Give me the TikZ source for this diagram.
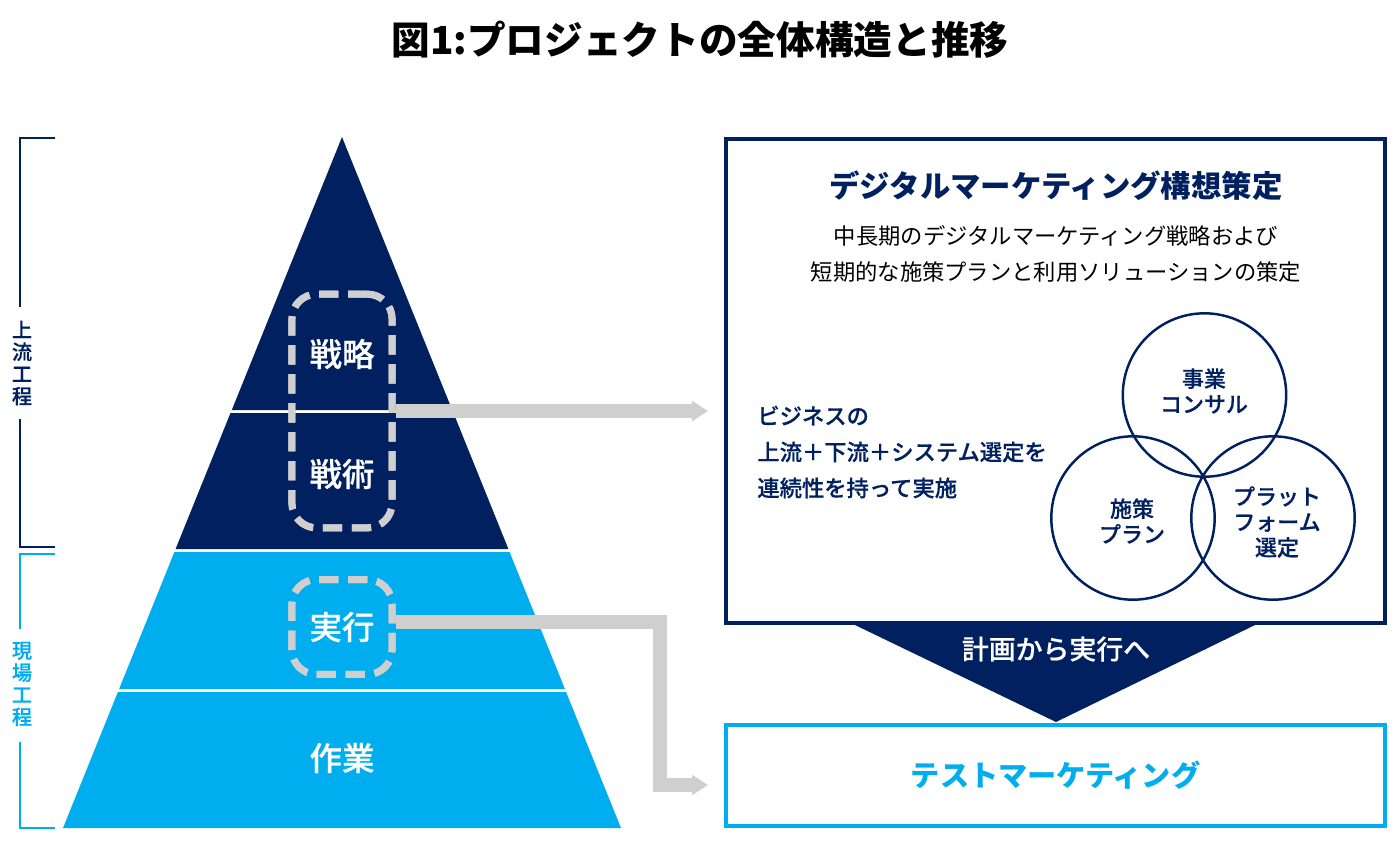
\documentclass[tikz,border=0pt]{standalone}
\usepackage{fontspec}
\setmainfont{Noto Sans CJK JP}
\newfontfamily\mediumfont[FakeBold=0.5]{Noto Sans CJK JP Medium}
\usetikzlibrary{arrows.meta}
\definecolor{navyblue}{RGB}{0,32,96}
\definecolor{skyblue}{RGB}{0,174,239}
\definecolor{arrowgray}{RGB}{207,207,207}
\newcommand{\pxfont}[1]{\fontsize{#1}{#1}\selectfont}
\tikzset{
  tierlabel/.style={text=white, font=\mediumfont\pxfont{18.5}},
  dashbox/.style={draw=arrowgray, line width=4pt, rounded corners=14pt, dash pattern=on 11pt off 5.5pt, minimum width=57pt, inner sep=0pt},
  flow/.style={draw=arrowgray, line width=8pt, -{Triangle[length=9pt,width=11pt]}},
  vennring/.style={draw=navyblue, circle, line width=1.4pt, minimum size=93pt, inner sep=0pt},
  vennlabel/.style={align=center, inner sep=0pt, text=navyblue, font=\mediumfont\pxfont{12.5}, execute at begin node={\baselineskip=14.5pt}},
  sidelabel/.style={align=center, inner sep=0pt, font=\mediumfont\pxfont{11.5}, execute at begin node={\baselineskip=12.6pt}},
  bracket/.style={line width=1pt},
  outerbox/.style={draw, rectangle, line width=2.3pt, minimum width=374.7pt, inner sep=0pt}
}
\begin{document}
\begin{tikzpicture}[x=0.02cm, y=-0.02cm]
    \useasboundingbox (0,0) rectangle (1400,840);
    % title
    \node[font=\bfseries\pxfont{22}, text=black] (title) at (700,40) {図1:プロジェクトの全体構造と推移};
    % pyramid
    \fill[navyblue] (342,137) -- (452.2,410) -- (231.8,410) -- cycle;
    \fill[navyblue] (230.5,413) -- (453.5,413) -- (508.4,549) -- (175.6,549) -- cycle;
    \fill[skyblue] (174.4,552) -- (509.6,552) -- (564.9,689) -- (119.1,689) -- cycle;
    \fill[skyblue] (117.9,692) -- (566.1,692) -- (621,828) -- (63,828) -- cycle;
    % right side boxes
    \node[outerbox, draw=navyblue, minimum height=275.8pt] (planbox) at (1055.5,380.8) {};
    \node[outerbox, draw=skyblue, minimum height=57.3pt] (testbox) at (1055.5,775.5) {\textcolor{skyblue}{\bfseries\pxfont{16.6}テストマーケティング}};
    \fill[navyblue] (855,625) -- (1255,625) -- (1056,722) -- cycle;
    \node[text=white, font=\mediumfont\pxfont{15.3}] (shift) at (1056,649) {計画から実行へ};
    % arrows
    \node[dashbox, minimum height=133pt] (stratbox) at (342,411) {};
    \node[dashbox, minimum height=54pt] (execbox) at (342,627) {};
    \coordinate (planin) at (708,411);
    \coordinate (execbend) at (660,622);
    \coordinate (testin) at (708,785);
    \draw[flow] (stratbox.east) -- (planin);
    \draw[flow] (execbox.east |- execbend) -- (execbend) -- (execbend |- testin) -- (testin);
    \node[dashbox, minimum height=133pt] at (342,411) {};
    \node[dashbox, minimum height=54pt] at (342,627) {};
    % tier labels
    \node[tierlabel] (senryaku) at (342,354) {戦略};
    \node[tierlabel] (senjutsu) at (342,474) {戦術};
    \node[tierlabel] (jikko) at (342,627) {実行};
    \node[tierlabel] (sagyo) at (342,758) {作業};
    % left brackets
    \node[sidelabel, text=navyblue] (upstream) at (22,363) {上\\流\\工\\程};
    \node[sidelabel, text=skyblue] (field) at (22,684) {現\\場\\工\\程};
    \draw[bracket, navyblue] (55,138) -- (20,138) -- (20,307);
    \draw[bracket, navyblue] (20,419) -- (20,547) -- (55,547);
    \draw[bracket, skyblue] (55,554) -- (20,554) -- (20,629);
    \draw[bracket, skyblue] (20,742) -- (20,828) -- (55,828);
    % plan box text
    \node[text=navyblue, font=\bfseries\pxfont{17.3}] (plantitle) at (1056,186) {デジタルマーケティング構想策定};
    \node[text=black, font=\pxfont{12.7}, align=center, execute at begin node={\baselineskip=20.5pt}] (plantext) at (1056,254) {中長期のデジタルマーケティング戦略および\\短期的な施策プランと利用ソリューションの策定};
    \node[text=navyblue, font=\mediumfont\pxfont{12.7}, align=left, anchor=west, inner sep=0pt, execute at begin node={\baselineskip=20.5pt}] (biztext) at (757,452) {ビジネスの\\上流＋下流＋システム選定を\\連続性を持って実施};
    % venn
    \node[vennring] (consul) at (1204.5,395) {};
    \node[vennring] (planning) at (1133,518) {};
    \node[vennring] (platform) at (1273,518) {};
    \node[vennlabel] (consultext) at (1204,391) {事業\\コンサル};
    \node[vennlabel] (planningtext) at (1132,521) {施策\\プラン};
    \node[vennlabel] (platformtext) at (1277,522) {プラット\\フォーム\\選定};
\end{tikzpicture}
\end{document}
